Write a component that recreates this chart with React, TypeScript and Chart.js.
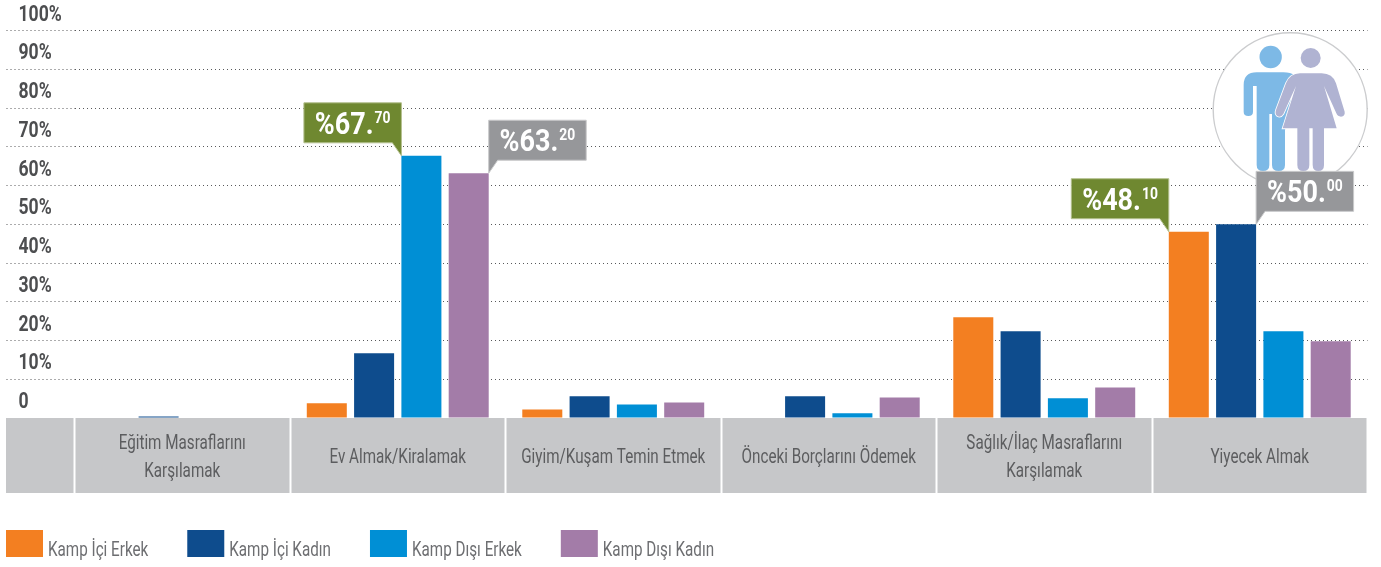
import React, { useEffect, useRef } from "react";
import { Chart, registerables } from "chart.js";

Chart.register(...registerables);

const FONT = 'Roboto, "Liberation Sans", sans-serif';
const CONDENSE_REGULAR = 0.725;
const CONDENSE_BOLD = 0.8;
const CONDENSE_CALLOUT = 0.87;

const categories = [
  ["Eğitim Masraflarını", "Karşılamak"],
  "Ev Almak/Kiralamak",
  "Giyim/Kuşam Temin Etmek",
  "Önceki Borçlarını Ödemek",
  ["Sağlık/İlaç Masraflarını", "Karşılamak"],
  "Yiyecek Almak",
];
const kampIciErkek = [0, 3.8, 2.2, 0, 26, 48.1];
const kampIciKadin = [0.4, 16.7, 5.6, 5.6, 22.4, 50];
const kampDisiErkek = [0, 67.7, 3.5, 1.2, 5.1, 22.4];
const kampDisiKadin = [0, 63.2, 4, 5.3, 7.9, 19.8];
const seriesNames = ["Kamp İçi Erkek", "Kamp İçi Kadın", "Kamp Dışı Erkek", "Kamp Dışı Kadın"];
const seriesColors = ["#F37F21", "#0E4C8D", "#008FD5", "#A37CA8"];

// callouts: [dataset, category, side]
const callouts: [number, number, "left" | "right"][] = [
  [2, 1, "left"],
  [3, 1, "right"],
  [0, 5, "left"],
  [1, 5, "right"],
];

// No condensed face is installed, so every canvas text is squeezed horizontally about its anchor.
function condenseText(ctx: any) {
  const orig = ctx.fillText.bind(ctx);
  ctx.fillText = (text: string, x: number, y: number) => {
    const k = ctx.condenseOverride || (/bold|700/.test(ctx.font) ? CONDENSE_BOLD : CONDENSE_REGULAR);
    ctx.save();
    ctx.translate(x, y);
    ctx.scale(k, 1);
    orig(text, 0, 0);
    ctx.restore();
  };
}

const bandPlugin = {
  id: "band",
  beforeDraw(chart: any) {
    const { ctx, chartArea } = chart;
    ctx.save();
    ctx.fillStyle = "#C6C7C9";
    ctx.fillRect(6, chartArea.bottom, 1367 - 6, 75);
    ctx.restore();
  },
};

const iconPlugin = {
  id: "icon",
  afterDatasetsDraw(chart: any) {
    const { ctx } = chart;
    ctx.save();
    ctx.beginPath();
    ctx.arc(1290.2, 109.7, 77, 0, Math.PI * 2);
    ctx.fillStyle = "#fff";
    ctx.fill();
    ctx.strokeStyle = "#CBCCCE";
    ctx.lineWidth = 1.4;
    ctx.stroke();

    ctx.translate(1050, 30);
    ctx.scale(1 / 3, 1 / 3);
    // man
    ctx.fillStyle = "#7DB9E6";
    ctx.beginPath();
    ctx.arc(662, 81, 33.5, 0, Math.PI * 2);
    ctx.fill();
    ctx.beginPath();
    ctx.moveTo(620, 127);
    ctx.lineTo(700, 127);
    ctx.quadraticCurveTo(745, 127, 745, 165);
    ctx.lineTo(705, 300);
    ctx.lineTo(705, 405);
    ctx.quadraticCurveTo(705, 423, 686, 423);
    ctx.quadraticCurveTo(666, 423, 666, 405);
    ctx.lineTo(666, 252);
    ctx.lineTo(658, 252);
    ctx.lineTo(658, 405);
    ctx.quadraticCurveTo(658, 423, 639, 423);
    ctx.quadraticCurveTo(620, 423, 620, 405);
    ctx.lineTo(620, 168);
    ctx.lineTo(609, 168);
    ctx.lineTo(609, 245);
    ctx.quadraticCurveTo(609, 258, 595, 258);
    ctx.quadraticCurveTo(581, 258, 581, 245);
    ctx.lineTo(581, 165);
    ctx.quadraticCurveTo(581, 127, 620, 127);
    ctx.closePath();
    ctx.fill();
    // woman
    ctx.fillStyle = "#B0B3D2";
    ctx.strokeStyle = "#fff";
    ctx.lineWidth = 5;
    ctx.beginPath();
    ctx.moveTo(750, 130);
    ctx.lineTo(815, 130);
    ctx.quadraticCurveTo(848, 130, 858, 160);
    ctx.lineTo(884, 245);
    ctx.quadraticCurveTo(886, 258, 873, 260);
    ctx.quadraticCurveTo(863, 260, 859, 250);
    ctx.lineTo(822, 168);
    ctx.lineTo(860, 295);
    ctx.lineTo(698, 295);
    ctx.lineTo(738, 168);
    ctx.lineTo(700, 252);
    ctx.quadraticCurveTo(692, 264, 682, 258);
    ctx.quadraticCurveTo(674, 252, 678, 240);
    ctx.lineTo(708, 160);
    ctx.quadraticCurveTo(720, 130, 750, 130);
    ctx.closePath();
    ctx.stroke();
    ctx.fill();
    ctx.beginPath();
    ctx.arc(782, 84, 30, 0, Math.PI * 2);
    ctx.fill();
    for (const [l, r] of [[742, 778], [788, 822]]) {
      ctx.beginPath();
      ctx.moveTo(l, 290);
      ctx.lineTo(r, 290);
      ctx.lineTo(r, 405);
      ctx.quadraticCurveTo(r, 423, (l + r) / 2, 423);
      ctx.quadraticCurveTo(l, 423, l, 405);
      ctx.closePath();
      ctx.fill();
    }
    ctx.restore();
  },
};

const calloutPlugin = {
  id: "callouts",
  afterDatasetsDraw(chart: any) {
    const { ctx } = chart;
    const W = 97.5;
    const H = 40;
    const GAP = 13;
    const TAIL = 9;
    for (const [ds, cat, side] of callouts) {
      const bar = chart.getDatasetMeta(ds).data[cat];
      const value = chart.data.datasets[ds].data[cat] as number;
      const half = bar.width / 2;
      const edge = side === "left" ? bar.x - half : bar.x + half;
      const top = bar.y;
      const boxBottom = top - GAP;
      const boxTop = boxBottom - H;
      const x0 = side === "left" ? edge - W : edge;
      ctx.save();
      ctx.beginPath();
      if (side === "left") {
        ctx.moveTo(x0, boxTop);
        ctx.lineTo(edge, boxTop);
        ctx.lineTo(edge, top);
        ctx.lineTo(edge - TAIL, boxBottom);
        ctx.lineTo(x0, boxBottom);
      } else {
        ctx.moveTo(x0, boxTop);
        ctx.lineTo(x0 + W, boxTop);
        ctx.lineTo(x0 + W, boxBottom);
        ctx.lineTo(edge + TAIL, boxBottom);
        ctx.lineTo(edge, top);
      }
      ctx.closePath();
      ctx.fillStyle = side === "left" ? "#6F8830" : "#96979A";
      ctx.fill();
      ctx.lineWidth = 1;
      ctx.strokeStyle = side === "left" ? "#B4C08F" : "#C9CACB";
      ctx.stroke();

      const [whole, frac] = value.toFixed(2).split(".");
      const main = `%${whole}.`;
      ctx.condenseOverride = CONDENSE_CALLOUT;
      ctx.fillStyle = "#fff";
      ctx.textBaseline = "alphabetic";
      ctx.textAlign = "left";
      ctx.font = `bold 31px ${FONT}`;
      const mw = ctx.measureText(main).width * CONDENSE_CALLOUT;
      ctx.font = `bold 16px ${FONT}`;
      const sw = ctx.measureText(frac).width * CONDENSE_CALLOUT;
      const tx = x0 + (W - mw - sw - 1) / 2;
      const base = boxTop + 31;
      ctx.font = `bold 31px ${FONT}`;
      ctx.fillText(main, tx, base);
      ctx.font = `bold 16px ${FONT}`;
      ctx.fillText(frac, tx + mw + 1, base - 11);
      ctx.condenseOverride = 0;
      ctx.restore();
    }
  },
};

const legendPlugin = {
  id: "manualLegend",
  afterDraw(chart: any) {
    const { ctx } = chart;
    ctx.save();
    ctx.font = `21px ${FONT}`;
    ctx.textBaseline = "middle";
    ctx.textAlign = "left";
    let x = 6;
    chart.data.datasets.forEach((d: any) => {
      ctx.fillStyle = d.backgroundColor;
      ctx.fillRect(x, 530, 37, 27);
      ctx.fillStyle = "#6D6E71";
      ctx.fillText(d.label, x + 42, 551);
      x += 42 + ctx.measureText(d.label).width * CONDENSE_REGULAR + 39;
    });
    ctx.restore();
  },
};

export default function App() {
  const ref = useRef<HTMLCanvasElement>(null);
  useEffect(() => {
    document.body.style.margin = "0";
    condenseText(ref.current!.getContext("2d"));
    const lineColor = (c: any) => (c.tick && c.tick.value === 0 ? "rgba(0,0,0,0)" : "#58595B");
    const datasetValues = [kampIciErkek, kampIciKadin, kampDisiErkek, kampDisiKadin];
    const chart = new Chart(ref.current!, {
      type: "bar",
      data: {
        labels: categories as any,
        datasets: seriesNames.map((label, i) => ({
          label,
          data: datasetValues[i],
          backgroundColor: seriesColors[i],
          categoryPercentage: 0.878,
          barPercentage: 0.846,
        })),
      },
      options: {
        animation: false,
        responsive: false,
        layout: { padding: { left: 18.5, right: 13.5, top: 30.7, bottom: 74 } },
        plugins: { legend: { display: false }, tooltip: { enabled: false }, title: { display: false } },
        scales: {
          x: {
            afterFit: (s: any) => {
              s.height = 75;
            },
            border: { display: false },
            grid: {
              offset: true,
              drawOnChartArea: false,
              drawTicks: true,
              tickLength: 75,
              tickColor: "#FFFFFF",
              tickWidth: 2,
            },
            ticks: {
              autoSkip: false,
              maxRotation: 0,
              minRotation: 0,
              crossAlign: "center",
              padding: -49,
              color: "#5C5D5F",
              font: { family: FONT, size: 21, lineHeight: 1.33 },
            },
          },
          y: {
            min: 0,
            max: 100,
            afterFit: (s: any) => {
              s.width = 56;
            },
            border: { display: false, dash: [1, 3] },
            grid: {
              color: lineColor,
              lineWidth: 1,
              tickLength: 68,
              tickColor: lineColor,
              tickWidth: 1,
              tickBorderDash: [1, 3],
              drawTicks: true,
            },
            ticks: {
              stepSize: 10,
              crossAlign: "far",
              labelOffset: -15.5,
              color: "#4D4E50",
              font: { family: FONT, size: 22, weight: "bold" },
              callback: (v: any) => (v === 0 ? "0" : `${v}%`),
            },
          },
        },
      } as any,
      plugins: [bandPlugin, iconPlugin, calloutPlugin, legendPlugin],
    });
    return () => chart.destroy();
  }, []);
  return (
    <div style={{ width: 1381, height: 567 }}>
      <canvas ref={ref} width={1381} height={567} style={{ display: "block" }} />
    </div>
  );
}
